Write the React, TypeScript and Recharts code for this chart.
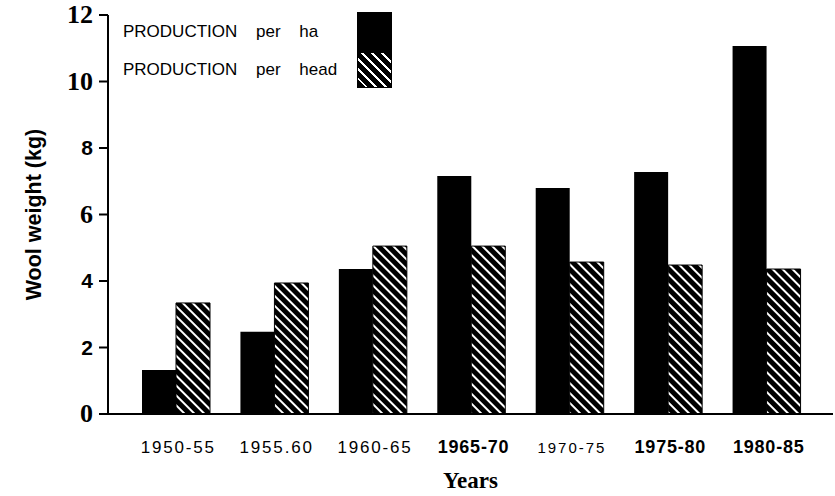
import React from "react"
import { BarChart, Bar, XAxis, YAxis, Legend, Label } from "recharts"

const years = ["1950-55", "1955.60", "1960-65", "1965-70", "1970-75", "1975-80", "1980-85"]
const perHa = [1.32, 2.47, 4.36, 7.16, 6.8, 7.28, 11.07]
const perHead = [3.34, 3.94, 5.05, 5.05, 4.57, 4.48, 4.36]
const yTicks = [0, 2, 4, 6, 8, 10, 12]

const data = years.map((name, i) => ({ name, perHa: perHa[i], perHead: perHead[i] }))

// tick labels in the scan are set in mixed type
const boldYears = ["1965-70", "1975-80", "1980-85"]
const serifY = [0, 6, 10, 12]

const XTick = (props: any) => {
  const { x, y, payload } = props
  const bold = boldYears.includes(payload.value)
  const small = payload.value === "1970-75"
  return (
    <text
      x={x + 2}
      y={y + 31}
      textAnchor="middle"
      fontFamily="Liberation Sans, Arial, sans-serif"
      fontSize={bold ? 18 : small ? 15 : 17}
      fontWeight={bold ? 700 : 400}
      letterSpacing={bold ? 0.8 : small ? 2 : 1.8}
      fill="#000"
    >
      {payload.value}
    </text>
  )
}

const YTick = (props: any) => {
  const { x, y, payload } = props
  const serif = serifY.includes(payload.value)
  return (
    <text
      x={x - 4}
      y={y + (serif ? 8 : 7)}
      textAnchor="end"
      fontFamily={serif ? "Liberation Serif, serif" : "Liberation Sans, Arial, sans-serif"}
      fontSize={serif ? 26 : 21}
      fontWeight={700}
      fill="#000"
    >
      {payload.value}
    </text>
  )
}

const renderLegend = () => {
  const rows = [
    { label: "PRODUCTION per ha", fill: "#000", h: 40 },
    { label: "PRODUCTION per head", fill: "hatch", h: 36 },
  ]
  return (
    <div>
      {rows.map((r) => (
        <div key={r.label} style={{ display: "flex", alignItems: "center", height: r.h }}>
          <span
            style={{
              width: 234,
              fontFamily: "Liberation Sans, Arial, sans-serif",
              fontSize: 17,
              wordSpacing: 14,
              color: "#000",
              whiteSpace: "nowrap",
            }}
          >
            {r.label}
          </span>
          <span
            style={{
              width: 33,
              height: r.h - 2,
              border: "1px solid #000",
              background:
                r.fill === "hatch"
                  ? "repeating-linear-gradient(45deg, #000 0px, #000 5px, #fff 5px, #fff 7px)"
                  : "#000",
            }}
          />
        </div>
      ))}
    </div>
  )
}

export default function App() {
  return (
    <div style={{ position: "absolute", left: 0, top: 0, background: "#fff" }}>
      <svg width={0} height={0} style={{ position: "absolute" }}>
        <defs>
          <pattern id="hatch" patternUnits="userSpaceOnUse" width={7} height={7} patternTransform="rotate(45)">
            <rect width={7} height={7} fill="#000" />
            <rect y={0} width={7} height={2} fill="#fff" />
          </pattern>
        </defs>
      </svg>
      <BarChart
        width={835}
        height={496}
        data={data}
        margin={{ top: 15, right: 2, left: 0, bottom: 52 }}
        barSize={34}
        barGap={0}
      >
        <XAxis
          dataKey="name"
          axisLine={{ stroke: "#000", strokeWidth: 2 }}
          tickLine={false}
          tick={<XTick />}
          padding={{ left: 19, right: 17 }}
          interval={0}
        >
          <Label
            value="Years"
            position="insideBottom"
            offset={-44}
            style={{ fontFamily: "Liberation Serif, serif", fontWeight: 700, fontSize: 23, fill: "#000" }}
          />
        </XAxis>
        <YAxis
          width={108}
          domain={[0, 12]}
          ticks={yTicks}
          axisLine={{ stroke: "#000", strokeWidth: 2 }}
          tickLine={{ stroke: "#000", strokeWidth: 2 }}
          tickSize={9}
          tick={<YTick />}
        >
          <Label
            value="Wool weight (kg)"
            angle={-90}
            position="center"
            dx={-21}
            style={{ fontFamily: "Liberation Sans, Arial, sans-serif", fontWeight: 700, fontSize: 21.5, fill: "#000" }}
          />
        </YAxis>
        <Legend
          layout="vertical"
          align="center"
          verticalAlign="middle"
          content={renderLegend}
          wrapperStyle={{ left: 123, top: 12, width: 280 }}
        />
        <Bar dataKey="perHa" name="PRODUCTION per ha" fill="#000" isAnimationActive={false} />
        <Bar
          dataKey="perHead"
          name="PRODUCTION per head"
          fill="url(#hatch)"
          stroke="#000"
          strokeWidth={1}
          isAnimationActive={false}
        />
      </BarChart>
    </div>
  )
}
